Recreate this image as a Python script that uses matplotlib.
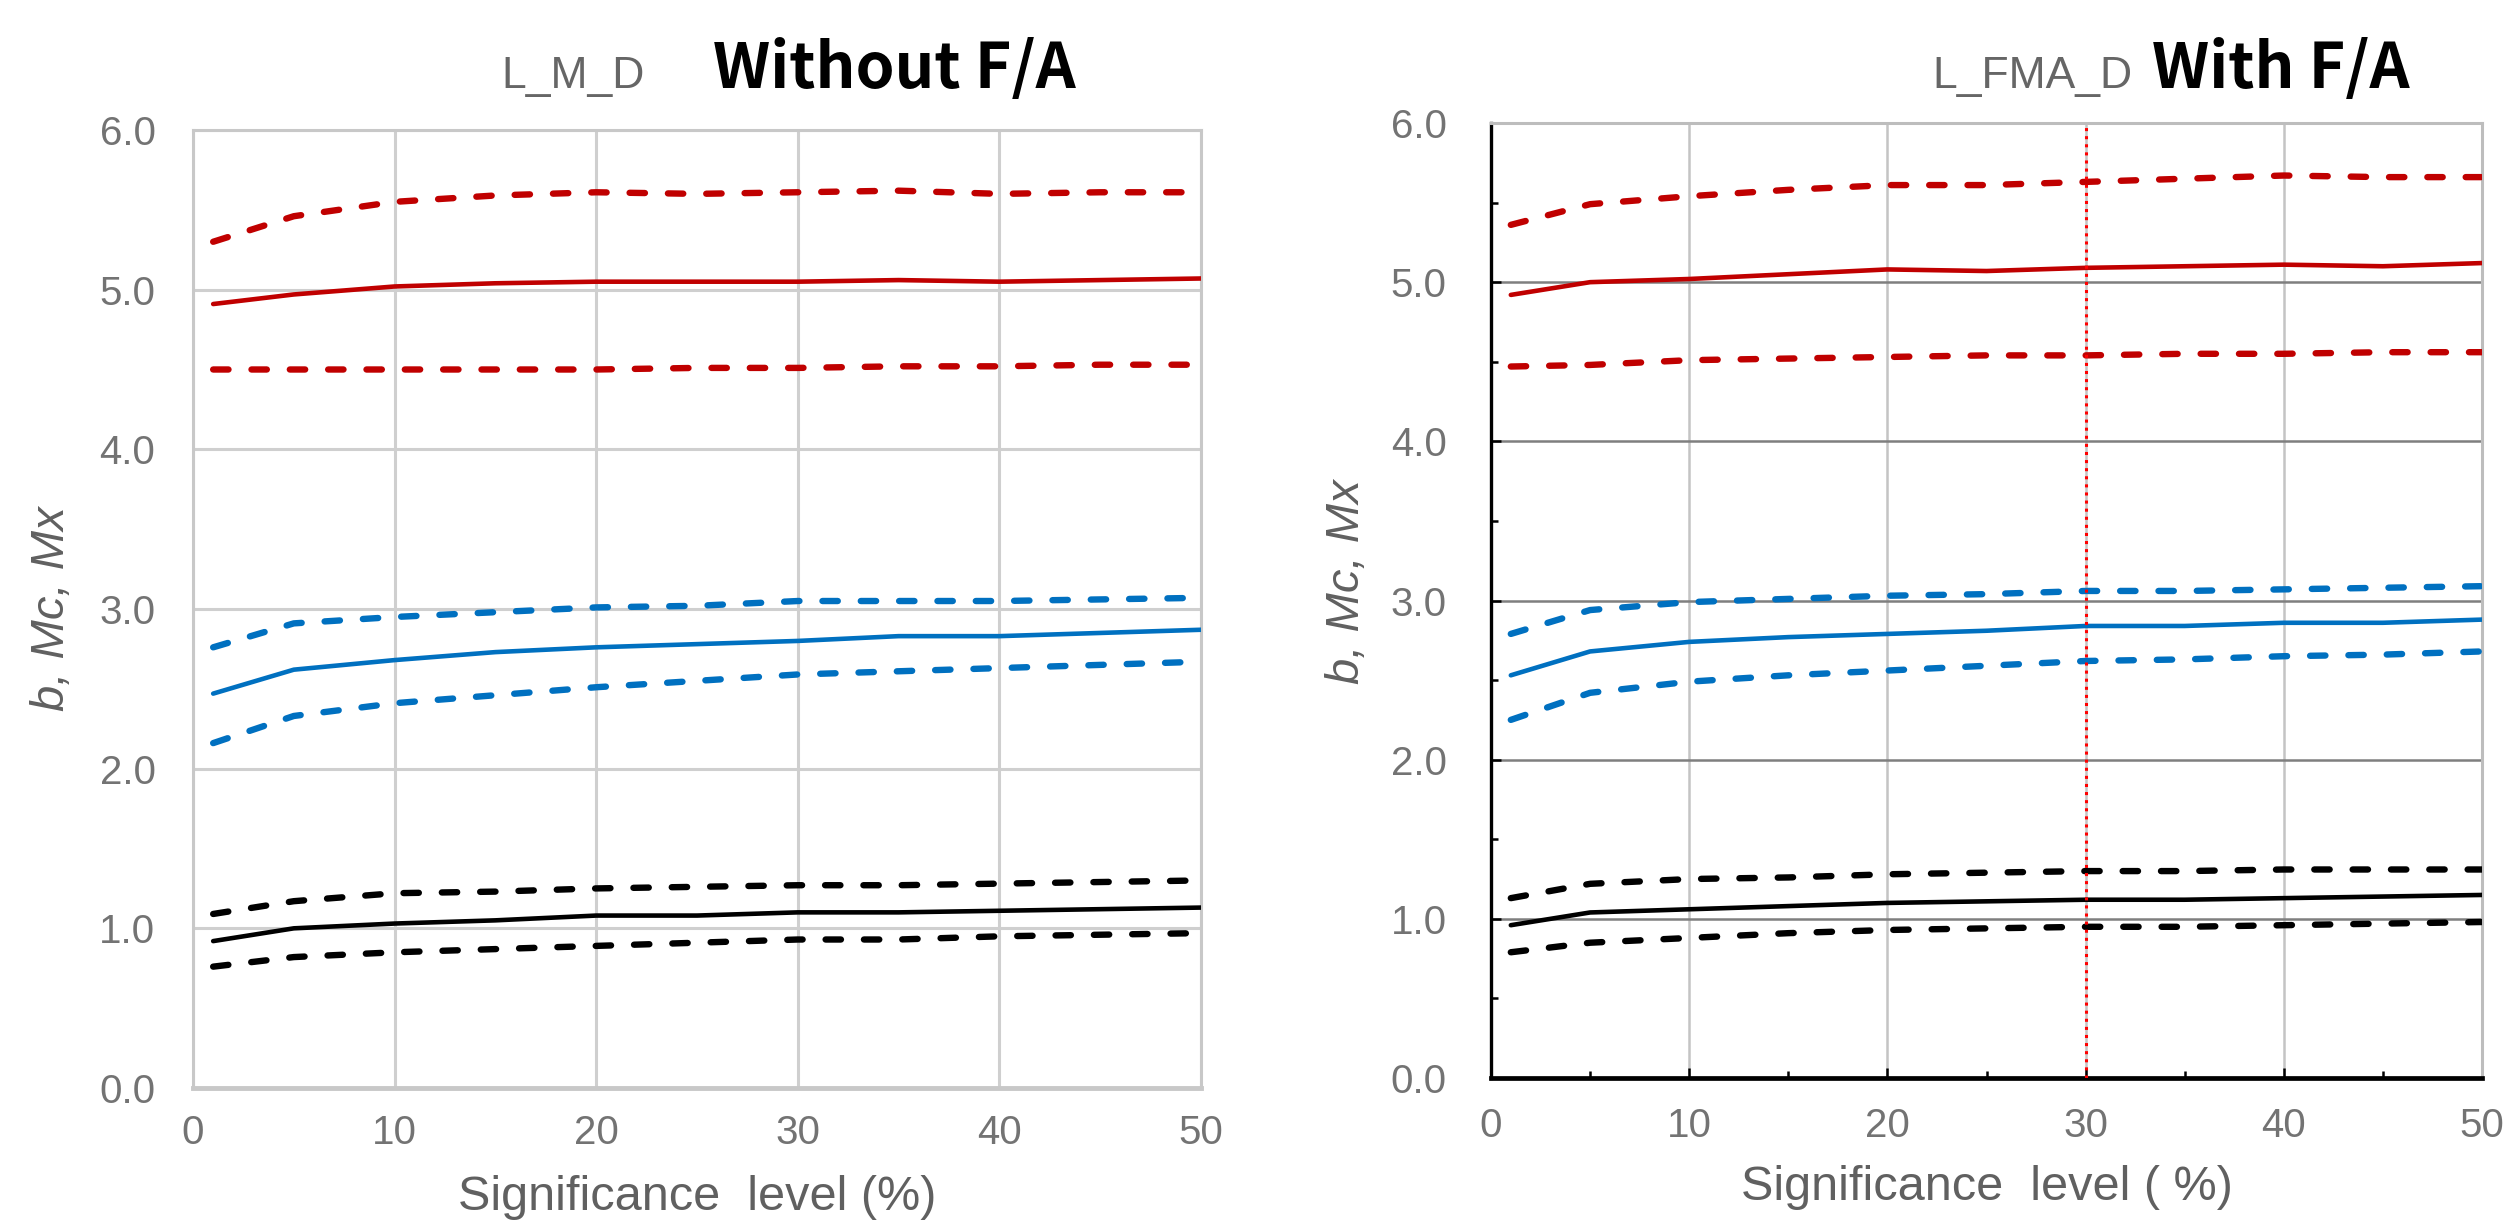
import matplotlib
matplotlib.use("Agg")
from matplotlib import pyplot as plt
from matplotlib.ticker import MultipleLocator, FormatStrFormatter

plt.rcParams['font.family'] = ['Liberation Sans', 'DejaVu Sans']

# significance levels (%)
sig = [1, 5, 10, 15, 20, 25, 30, 35, 40, 45, 50]

# without F/A (L_M_D)
mx_wo = [4.91, 4.97, 5.02, 5.04, 5.05, 5.05, 5.05, 5.06, 5.05, 5.06, 5.07]
mx_wo_hi = [5.30, 5.46, 5.55, 5.59, 5.61, 5.60, 5.61, 5.62, 5.60, 5.61, 5.61]
mx_wo_lo = [4.50, 4.50, 4.50, 4.50, 4.50, 4.51, 4.51, 4.52, 4.52, 4.53, 4.53]
mc_wo = [2.47, 2.62, 2.68, 2.73, 2.76, 2.78, 2.80, 2.83, 2.83, 2.85, 2.87]
mc_wo_hi = [2.76, 2.91, 2.95, 2.98, 3.01, 3.02, 3.05, 3.05, 3.05, 3.06, 3.07]
mc_wo_lo = [2.16, 2.33, 2.41, 2.46, 2.51, 2.55, 2.59, 2.61, 2.63, 2.65, 2.67]
b_wo = [0.92, 1.00, 1.03, 1.05, 1.08, 1.08, 1.10, 1.10, 1.11, 1.12, 1.13]
b_wo_hi = [1.09, 1.17, 1.22, 1.23, 1.25, 1.26, 1.27, 1.27, 1.28, 1.29, 1.30]
b_wo_lo = [0.76, 0.82, 0.85, 0.87, 0.89, 0.91, 0.93, 0.93, 0.95, 0.96, 0.97]

# with F/A (L_FMA_D)
mx_w = [4.92, 5.00, 5.02, 5.05, 5.08, 5.07, 5.09, 5.10, 5.11, 5.10, 5.12]
mx_w_hi = [5.36, 5.49, 5.54, 5.58, 5.61, 5.61, 5.63, 5.65, 5.67, 5.66, 5.66]
mx_w_lo = [4.47, 4.48, 4.51, 4.52, 4.53, 4.54, 4.54, 4.55, 4.55, 4.56, 4.56]
mc_w = [2.53, 2.68, 2.74, 2.77, 2.79, 2.81, 2.84, 2.84, 2.86, 2.86, 2.88]
mc_w_hi = [2.79, 2.94, 2.99, 3.01, 3.03, 3.04, 3.06, 3.06, 3.07, 3.08, 3.09]
mc_w_lo = [2.25, 2.42, 2.49, 2.53, 2.56, 2.59, 2.62, 2.63, 2.65, 2.66, 2.68]
b_w = [0.96, 1.04, 1.06, 1.08, 1.10, 1.11, 1.12, 1.12, 1.13, 1.14, 1.15]
b_w_hi = [1.13, 1.22, 1.25, 1.26, 1.28, 1.29, 1.30, 1.30, 1.31, 1.31, 1.31]
b_w_lo = [0.79, 0.85, 0.88, 0.91, 0.93, 0.94, 0.95, 0.95, 0.96, 0.97, 0.98]

chosen_level = 30

RED = '#C00000'
BLUE = '#0070C0'
BLACK = '#000000'
TICK_GRAY = '#737373'
LABEL_GRAY = '#606060'
DASH = (0, (2.4, 3.6))


def draw_lines(ax, groups):
    for mid, hi, lo, c in groups:
        ax.plot(sig, mid, color=c, lw=3.3, solid_capstyle='round', zorder=4)
        ax.plot(sig, hi, color=c, lw=4.6, linestyle=DASH, dash_capstyle='round', zorder=4)
        ax.plot(sig, lo, color=c, lw=4.6, linestyle=DASH, dash_capstyle='round', zorder=4)


fig = plt.figure(figsize=(25.03, 12.21), dpi=100)

# left panel: without F/A
ax1 = fig.add_axes([193 / 2503, 1 - 1088 / 1221, 1008 / 2503, 958 / 1221])
draw_lines(ax1, [(mx_wo, mx_wo_hi, mx_wo_lo, RED),
                 (mc_wo, mc_wo_hi, mc_wo_lo, BLUE),
                 (b_wo, b_wo_hi, b_wo_lo, BLACK)])
ax1.set_xlim(0, 50)
ax1.set_ylim(0, 6)
ax1.xaxis.set_major_locator(MultipleLocator(10))
ax1.yaxis.set_major_locator(MultipleLocator(1))
ax1.yaxis.set_major_formatter(FormatStrFormatter('%.1f'))
ax1.grid(True, color='#cfcfcf', lw=2.2, zorder=1)
ax1.set_axisbelow(True)
for s in ax1.spines.values():
    s.set_color('#c8c8c8')
    s.set_linewidth(2.2)
ax1.spines['bottom'].set_linewidth(3.5)
ax1.tick_params(axis='both', length=0, labelsize=29, labelcolor=TICK_GRAY)
ax1.tick_params(axis='y', pad=27)
ax1.tick_params(axis='x', pad=19)
ax1.set_xlabel('Significance  level (%)', fontsize=35, color=LABEL_GRAY, labelpad=16)
ax1.set_ylabel('b, Mc, Mx', fontsize=34, style='italic', color=LABEL_GRAY)
ax1.yaxis.set_label_coords(-0.118, 0.5)

# right panel: with F/A
ax2 = fig.add_axes([1491 / 2503, 1 - 1078 / 1221, 991 / 2503, 955 / 1221])
draw_lines(ax2, [(mx_w, mx_w_hi, mx_w_lo, RED),
                 (mc_w, mc_w_hi, mc_w_lo, BLUE),
                 (b_w, b_w_hi, b_w_lo, BLACK)])
ax2.axvline(chosen_level, color='#ff0000', lw=2.2, linestyle=':', zorder=5)
ax2.set_xlim(0, 50)
ax2.set_ylim(0, 6)
ax2.xaxis.set_major_locator(MultipleLocator(10))
ax2.xaxis.set_minor_locator(MultipleLocator(5))
ax2.yaxis.set_major_locator(MultipleLocator(1))
ax2.yaxis.set_minor_locator(MultipleLocator(0.5))
ax2.yaxis.set_major_formatter(FormatStrFormatter('%.1f'))
ax2.grid(True, axis='y', which='major', color='#7f7f7f', lw=1.8, zorder=1)
ax2.grid(True, axis='x', which='major', color='#c4c4c4', lw=1.8, zorder=1)
ax2.set_axisbelow(True)
ax2.spines['top'].set_color('#bdbdbd')
ax2.spines['right'].set_color('#bdbdbd')
ax2.spines['top'].set_linewidth(2.2)
ax2.spines['right'].set_linewidth(2.2)
ax2.spines['left'].set_color('black')
ax2.spines['left'].set_linewidth(2.4)
ax2.spines['bottom'].set_color('black')
ax2.spines['bottom'].set_linewidth(3.4)
ax2.tick_params(axis='both', which='both', direction='in', color='black', width=1.8,
                top=False, right=False)
ax2.tick_params(axis='both', which='major', length=7.5, labelsize=29, labelcolor=TICK_GRAY)
ax2.tick_params(axis='both', which='minor', length=5)
ax2.tick_params(axis='y', which='major', pad=32)
ax2.tick_params(axis='x', which='major', pad=21)
ax2.set_xlabel('Significance  level ( %)', fontsize=35, color=LABEL_GRAY, labelpad=14)
ax2.set_ylabel('b, Mc, Mx', fontsize=34, style='italic', color=LABEL_GRAY)
ax2.yaxis.set_label_coords(-0.123, 0.52)

# titles
title_font = ['Noto Sans CJK KR', 'DejaVu Sans']
fig.text(645 / 2503, 1 - 88 / 1221, 'L_M_D', fontsize=32, color='#666666',
         ha='right', va='baseline')
fig.text(713 / 2503, 1 - 88 / 1221, 'Without F/A', fontsize=45, fontweight='bold',
         family=title_font, ha='left', va='baseline')
fig.text(2133 / 2503, 1 - 88 / 1221, 'L_FMA_D', fontsize=32, color='#666666',
         ha='right', va='baseline')
fig.text(2152 / 2503, 1 - 88 / 1221, 'With F/A', fontsize=45, fontweight='bold',
         family=title_font, ha='left', va='baseline')

fig.savefig('out.png', dpi=100)
